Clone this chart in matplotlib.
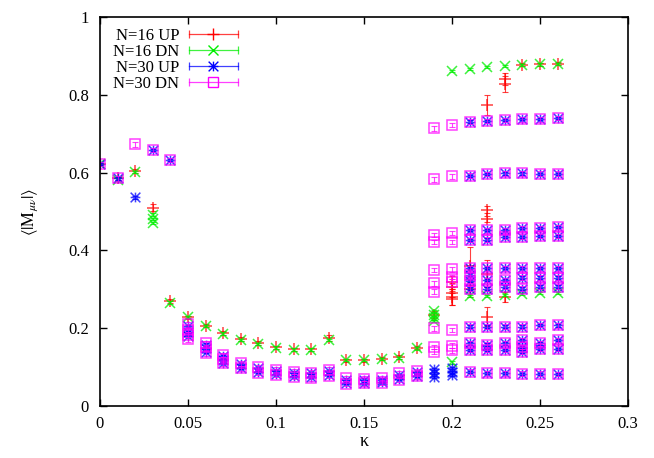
import matplotlib
matplotlib.use('Agg')
import matplotlib.pyplot as plt
from matplotlib.legend_handler import HandlerBase
from matplotlib.lines import Line2D
from matplotlib.path import Path
from matplotlib.ticker import FuncFormatter

plt.rcParams['font.family'] = ['Liberation Serif', 'DejaVu Serif']
plt.rcParams['mathtext.fontset'] = 'stix'

# ---------------- data ----------------
labels = ['N=16 UP', 'N=16 DN', 'N=30 UP', 'N=30 DN']

n16up_kappa = [0.00, 0.01, 0.02, 0.03, 0.04, 0.05, 0.06, 0.07, 0.08, 0.09, 0.10, 0.11, 0.12, 0.13,
               0.14, 0.15, 0.16, 0.17, 0.18, 0.19,
               0.20, 0.20, 0.20, 0.20, 0.20,
               0.21, 0.21,
               0.22, 0.22, 0.22, 0.22, 0.22,
               0.23, 0.23, 0.23,
               0.24, 0.25, 0.26]
n16up_value = [0.622, 0.585, 0.604, 0.510, 0.270, 0.228, 0.206, 0.188, 0.172, 0.161, 0.151, 0.146, 0.146, 0.175,
               0.118, 0.118, 0.121, 0.126, 0.150, 0.235,
               0.320, 0.305, 0.290, 0.280, 0.275,
               0.360, 0.300,
               0.774, 0.505, 0.480, 0.340, 0.230,
               0.840, 0.828, 0.280,
               0.877, 0.878, 0.880]
n16up_err = [0.003, 0.003, 0.004, 0.008, 0.005, 0.004, 0.004, 0.005, 0.005, 0.005, 0.004, 0.004, 0.004, 0.008,
             0.004, 0.004, 0.004, 0.005, 0.004, 0.008,
             0.015, 0.010, 0.010, 0.020, 0.015,
             0.050, 0.020,
             0.025, 0.008, 0.008, 0.035, 0.025,
             0.015, 0.020, 0.012,
             0.004, 0.004, 0.004]

n16dn_kappa = [0.00, 0.01, 0.02, 0.03, 0.03, 0.03, 0.04, 0.05, 0.06, 0.07, 0.08, 0.09, 0.10, 0.11, 0.12, 0.13,
               0.14, 0.15, 0.16, 0.17, 0.18,
               0.19, 0.19, 0.19, 0.19,
               0.20, 0.20, 0.21, 0.21, 0.22, 0.22, 0.23, 0.23, 0.24, 0.24, 0.25, 0.25, 0.26, 0.26]
n16dn_value = [0.622, 0.582, 0.602, 0.492, 0.480, 0.470, 0.266, 0.228, 0.205, 0.186, 0.170, 0.160, 0.150, 0.145, 0.145, 0.170,
               0.118, 0.118, 0.120, 0.124, 0.148,
               0.245, 0.235, 0.225, 0.218,
               0.862, 0.112, 0.866, 0.283, 0.871, 0.283, 0.874, 0.285, 0.877, 0.288, 0.878, 0.290, 0.879, 0.291]
n16dn_err = 0.003

n30up_kappa = [0.00, 0.01, 0.02, 0.03, 0.04,
               0.05, 0.05, 0.05, 0.06, 0.06, 0.06, 0.07, 0.07, 0.07, 0.08, 0.08, 0.09, 0.09,
               0.10, 0.10, 0.11, 0.11, 0.12, 0.12, 0.13, 0.13, 0.14, 0.14, 0.15, 0.15, 0.16, 0.16,
               0.17, 0.17, 0.18, 0.18, 0.19, 0.19, 0.19, 0.20, 0.20, 0.20,
               0.21, 0.21, 0.21, 0.21, 0.21, 0.21, 0.21, 0.21, 0.21, 0.21, 0.21, 0.21,
               0.22, 0.22, 0.22, 0.22, 0.22, 0.22, 0.22, 0.22, 0.22, 0.22, 0.22,
               0.23, 0.23, 0.23, 0.23, 0.23, 0.23, 0.23, 0.23, 0.23, 0.23, 0.23,
               0.24, 0.24, 0.24, 0.24, 0.24, 0.24, 0.24, 0.24, 0.24, 0.24, 0.24, 0.24,
               0.25, 0.25, 0.25, 0.25, 0.25, 0.25, 0.25, 0.25, 0.25, 0.25, 0.25,
               0.26, 0.26, 0.26, 0.26, 0.26, 0.26, 0.26, 0.26, 0.26, 0.26, 0.26]
n30up_value = [0.622, 0.585, 0.536, 0.658, 0.632,
               0.205, 0.190, 0.180, 0.158, 0.148, 0.140, 0.128, 0.118, 0.110, 0.108, 0.098, 0.098, 0.088,
               0.090, 0.082, 0.086, 0.078, 0.084, 0.074, 0.090, 0.080, 0.068, 0.060, 0.068, 0.060, 0.068, 0.062,
               0.080, 0.070, 0.088, 0.078, 0.095, 0.085, 0.075, 0.098, 0.088, 0.080,
               0.731, 0.592, 0.452, 0.427, 0.354, 0.338, 0.322, 0.302, 0.204, 0.161, 0.144, 0.088,
               0.733, 0.596, 0.452, 0.428, 0.354, 0.324, 0.302, 0.204, 0.158, 0.144, 0.084,
               0.735, 0.598, 0.452, 0.435, 0.354, 0.324, 0.307, 0.204, 0.161, 0.144, 0.084,
               0.737, 0.598, 0.457, 0.435, 0.354, 0.330, 0.302, 0.204, 0.170, 0.152, 0.140, 0.083,
               0.737, 0.597, 0.457, 0.437, 0.354, 0.330, 0.307, 0.208, 0.161, 0.147, 0.083,
               0.740, 0.597, 0.460, 0.437, 0.354, 0.330, 0.307, 0.207, 0.170, 0.147, 0.082]
n30up_err = 0.003

n30dn_kappa = [0.00, 0.01, 0.02, 0.03, 0.04,
               0.05, 0.05, 0.05, 0.05, 0.06, 0.06, 0.06, 0.07, 0.07, 0.07, 0.08, 0.08, 0.09, 0.09,
               0.10, 0.10, 0.11, 0.11, 0.12, 0.12, 0.13, 0.13, 0.14, 0.14, 0.15, 0.15, 0.16, 0.16,
               0.17, 0.17, 0.18, 0.18,
               0.19, 0.19, 0.19, 0.19, 0.19, 0.19, 0.19, 0.19, 0.19, 0.19,
               0.20, 0.20, 0.20, 0.20, 0.20, 0.20, 0.20, 0.20, 0.20, 0.20,
               0.21, 0.21, 0.21, 0.21, 0.21, 0.21, 0.21, 0.21, 0.21, 0.21, 0.21, 0.21,
               0.22, 0.22, 0.22, 0.22, 0.22, 0.22, 0.22, 0.22, 0.22, 0.22, 0.22,
               0.23, 0.23, 0.23, 0.23, 0.23, 0.23, 0.23, 0.23, 0.23, 0.23, 0.23,
               0.24, 0.24, 0.24, 0.24, 0.24, 0.24, 0.24, 0.24, 0.24, 0.24, 0.24, 0.24,
               0.25, 0.25, 0.25, 0.25, 0.25, 0.25, 0.25, 0.25, 0.25, 0.25, 0.25,
               0.26, 0.26, 0.26, 0.26, 0.26, 0.26, 0.26, 0.26, 0.26, 0.26, 0.26]
n30dn_value = [0.622, 0.585, 0.673, 0.658, 0.632,
               0.210, 0.195, 0.183, 0.171, 0.161, 0.151, 0.135, 0.131, 0.120, 0.110, 0.110, 0.097, 0.100, 0.086,
               0.093, 0.080, 0.088, 0.075, 0.086, 0.071, 0.093, 0.077, 0.071, 0.057, 0.070, 0.058, 0.071, 0.060,
               0.084, 0.067, 0.090, 0.076,
               0.714, 0.583, 0.440, 0.422, 0.350, 0.315, 0.294, 0.200, 0.152, 0.140,
               0.722, 0.590, 0.445, 0.422, 0.351, 0.332, 0.320, 0.195, 0.155, 0.143,
               0.731, 0.592, 0.452, 0.427, 0.354, 0.338, 0.322, 0.302, 0.204, 0.161, 0.144, 0.088,
               0.733, 0.596, 0.452, 0.428, 0.354, 0.324, 0.302, 0.204, 0.158, 0.144, 0.084,
               0.735, 0.598, 0.452, 0.435, 0.354, 0.324, 0.307, 0.204, 0.161, 0.144, 0.084,
               0.737, 0.598, 0.457, 0.435, 0.354, 0.330, 0.302, 0.204, 0.170, 0.152, 0.140, 0.083,
               0.737, 0.597, 0.457, 0.437, 0.354, 0.330, 0.307, 0.208, 0.161, 0.147, 0.083,
               0.740, 0.597, 0.460, 0.437, 0.354, 0.330, 0.307, 0.207, 0.170, 0.147, 0.082]
n30dn_err = 0.006

x_ticks = [0, 0.05, 0.1, 0.15, 0.2, 0.25, 0.3]
y_ticks = [0, 0.2, 0.4, 0.6, 0.8, 1.0]

# ---------------- style ----------------
asterisk = Path([(-1, 0), (1, 0), (0, -1), (0, 1), (-1, -1), (1, 1), (-1, 1), (1, -1)],
                [Path.MOVETO, Path.LINETO] * 4)

styles = [
    dict(color='#ff0000', marker='+', ms=8.5),
    dict(color='#00ee00', marker='x', ms=7.0),
    dict(color='#0000ff', marker=asterisk, ms=7.0),
    dict(color='#ff00ff', marker='s', ms=7.0),
]
series = [
    (n16up_kappa, n16up_value, n16up_err),
    (n16dn_kappa, n16dn_value, n16dn_err),
    (n30up_kappa, n30up_value, n30up_err),
    (n30dn_kappa, n30dn_value, n30dn_err),
]

fig = plt.figure(figsize=(6.54, 4.58), dpi=100)
ax = fig.add_axes([100 / 654, 1 - 406 / 458, 528 / 654, 389 / 458])

for (k, v, e), st in zip(series, styles):
    ax.errorbar(k, v, yerr=e, fmt='none', ecolor=st['color'], elinewidth=0.8,
                capsize=2.5, capthick=0.8, alpha=0.75)
    ax.plot(k, v, ls='none', marker=st['marker'], ms=st['ms'], mec=st['color'],
            mfc='none', mew=1.1, alpha=0.75)

ax.set_xlim(0, 0.3)
ax.set_ylim(0, 1)
ax.set_xticks(x_ticks)
ax.set_yticks(y_ticks)
ax.xaxis.set_major_formatter(FuncFormatter(lambda x, p: '%g' % x))
ax.yaxis.set_major_formatter(FuncFormatter(lambda x, p: '%g' % x))
ax.tick_params(direction='in', length=5, width=1, top=True, right=True, labelsize=12)
ax.tick_params(axis='y', pad=8)
ax.tick_params(axis='x', pad=7)
for s in ax.spines.values():
    s.set_linewidth(1.2)

ax.set_xlabel('κ', fontsize=13, labelpad=1)
ax.set_ylabel(r'$\langle|\mathrm{M}_{\mu\nu}|\rangle$', fontsize=12, labelpad=20)


class ErrHandler(HandlerBase):
    def create_artists(self, legend, orig_handle, xdescent, ydescent, width, height,
                       fontsize, trans):
        y = height / 2 - ydescent
        x0 = -xdescent
        x1 = x0 + width
        c = orig_handle.get_color()
        line = Line2D([x0, x1], [y, y], color=c, lw=0.9, alpha=0.75, transform=trans)
        caps = Line2D([x0, x1], [y, y], ls='none', marker='|', ms=6, mew=0.9,
                      color=c, alpha=0.75, transform=trans)
        mk = Line2D([(x0 + x1) / 2], [y], ls='none', marker=orig_handle.get_marker(),
                    ms=orig_handle.get_markersize(), mec=c, mfc='none', mew=1.0,
                    transform=trans)
        return [line, caps, mk]


proxies = [Line2D([], [], color=st['color'], marker=st['marker'], ms=st['ms']) for st in styles]
ax.legend(proxies, labels, loc='upper left', bbox_to_anchor=(0.0246, 0.972),
          frameon=False, markerfirst=False, handlelength=2.9, handletextpad=0.6,
          labelspacing=0.0, borderpad=0, borderaxespad=0, fontsize=12,
          handler_map={Line2D: ErrHandler()})

fig.savefig('out.png', dpi=100)
